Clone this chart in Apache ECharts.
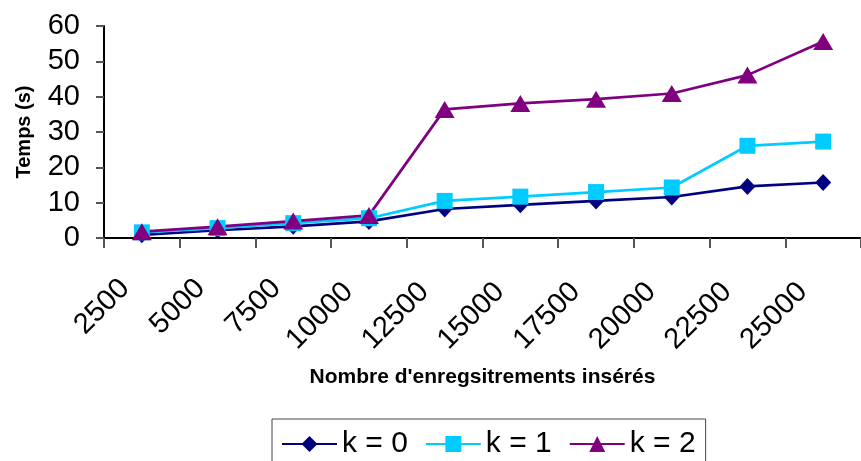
<!DOCTYPE html>
<html>
<head>
<meta charset="utf-8">
<script src="https://cdn.jsdelivr.net/npm/echarts@6/dist/echarts.min.js"></script>
<style>html,body{margin:0;padding:0;background:#fff}#c{width:861px;height:461px}</style>
</head>
<body>
<div id="c"></div>
<script>
const categories = ['2500','5000','7500','10000','12500','15000','17500','20000','22500','25000'];
const k0 = [0.9, 2.2, 3.3, 4.7, 8.2, 9.4, 10.5, 11.6, 14.6, 15.7];
const k1 = [1.6, 2.8, 4.2, 5.6, 10.5, 11.7, 13.0, 14.3, 26.1, 27.3];
const k2 = [1.8, 3.2, 4.8, 6.4, 36.4, 38.1, 39.3, 40.9, 46.1, 55.6];
const seriesNames = ['k = 0', 'k = 1', 'k = 2'];
const yTicks = {min: 0, max: 60, interval: 10};

const font = 'Arial, "Liberation Sans", sans-serif';
// longer (5-digit) labels sit slightly further down-left in the reference
const xAxisData = categories.map(function (c) {
  return c.length > 4 ? {value: c, textStyle: {padding: [0, 29, 0, 0]}} : c;
});
const chart = echarts.init(document.getElementById('c'), null, {renderer: 'canvas'});
chart.setOption({
  animation: false,
  backgroundColor: '#fff',
  grid: {left: 104, top: 26, width: 763, height: 212},
  legend: {
    data: seriesNames,
    left: 272, top: 419,
    orient: 'horizontal',
    itemWidth: 55, itemHeight: 20, itemGap: 17,
    padding: [10, 10, 8, 9],
    borderColor: '#444', borderWidth: 1,
    textStyle: {fontFamily: font, fontSize: 30, color: '#000'}
  },
  xAxis: {
    type: 'category',
    data: xAxisData,
    boundaryGap: true,
    name: "Nombre d'enregsitrements insérés",
    nameLocation: 'middle',
    nameGap: 129,
    nameTextStyle: {fontFamily: font, fontSize: 21, fontWeight: 'bold', color: '#000'},
    axisLine: {lineStyle: {color: '#000', width: 2}},
    axisTick: {show: true, length: 10, lineStyle: {color: '#555', width: 2}},
    axisLabel: {rotate: 45, margin: 29, padding: [0, 24, 0, 0], fontFamily: font, fontSize: 29, color: '#000', interval: 0},
    splitLine: {show: false}
  },
  yAxis: {
    type: 'value',
    min: yTicks.min, max: yTicks.max, interval: yTicks.interval,
    name: 'Temps (s)',
    nameLocation: 'middle',
    nameGap: 70,
    nameTextStyle: {fontFamily: font, fontSize: 20, fontWeight: 'bold', color: '#000'},
    axisLine: {show: true, lineStyle: {color: '#000', width: 2}},
    axisTick: {show: true, length: 8, lineStyle: {color: '#555', width: 2}},
    axisLabel: {margin: 24, fontFamily: font, fontSize: 29, color: '#000'},
    splitLine: {show: false}
  },
  series: [
    {name: seriesNames[0], type: 'line', data: k0, symbol: 'diamond', symbolSize: [16, 17],
     lineStyle: {color: '#000080', width: 2.7}, itemStyle: {color: '#000080'}},
    {name: seriesNames[1], type: 'line', data: k1, symbol: 'rect', symbolSize: 16,
     lineStyle: {color: '#00CCFF', width: 2.7}, itemStyle: {color: '#00CCFF'}},
    {name: seriesNames[2], type: 'line', data: k2, symbol: 'triangle', symbolSize: [20, 17],
     lineStyle: {color: '#800080', width: 2.7}, itemStyle: {color: '#800080'}}
  ]
});
</script>
</body>
</html>
